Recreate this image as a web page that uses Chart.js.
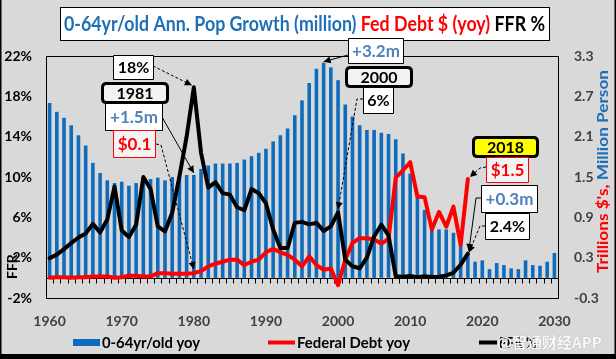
<!DOCTYPE html>
<html><head><meta charset="utf-8">
<script src="https://cdn.jsdelivr.net/npm/chart.js@4/dist/chart.umd.min.js"></script>
<style>html,body{margin:0;padding:0;background:#d9d9d9;overflow:hidden}</style>
</head><body>
<canvas id="c" width="616" height="359"></canvas>
<script>
// ---- data ----
const years = [1960,1961,1962,1963,1964,1965,1966,1967,1968,1969,
1970,1971,1972,1973,1974,1975,1976,1977,1978,1979,
1980,1981,1982,1983,1984,1985,1986,1987,1988,1989,
1990,1991,1992,1993,1994,1995,1996,1997,1998,1999,
2000,2001,2002,2003,2004,2005,2006,2007,2008,2009,
2010,2011,2012,2013,2014,2015,2016,2017,2018,2019,
2020,2021,2022,2023,2024,2025,2026,2027,2028,2029,2030];
const xTickLabels = ['1960','1970','1980','1990','2000','2010','2020','2030'];
// 0-64 yr/old population growth, million (right axis)
const popGrowth = [2.60,2.47,2.38,2.27,2.12,1.97,1.71,1.56,1.45,1.41,
1.43,1.37,1.41,1.44,1.47,1.49,1.45,1.50,1.51,1.53,
1.53,1.62,1.67,1.70,1.70,1.70,1.71,1.76,1.81,1.86,
1.92,2.03,2.12,2.22,2.42,2.64,2.90,3.11,3.20,3.13,
2.94,2.58,2.40,2.27,2.20,2.20,2.16,2.14,2.06,1.85,
1.55,1.21,1.01,0.81,0.72,0.72,0.67,0.49,0.37,0.24,
0.26,0.13,0.22,0.19,0.14,0.13,0.26,0.19,0.18,0.24,0.37];
// Federal debt yoy change, trillions $ (right axis), 1960-2018
const fedDebt = [0.00,0.01,0.01,0.00,0.01,0.01,0.02,0.02,0.02,0.00,
0.01,0.03,0.03,0.02,0.02,0.07,0.07,0.06,0.06,0.06,
0.07,0.10,0.17,0.21,0.24,0.27,0.27,0.19,0.24,0.27,
0.38,0.43,0.38,0.34,0.27,0.17,0.32,0.19,0.12,0.14,
-0.11,0.27,0.52,0.59,0.59,0.57,0.51,0.58,1.49,1.60,
1.72,1.21,1.20,0.72,0.98,0.76,1.06,0.49,1.47];
// Fed funds rate %, year-end (left axis), 1960-2018
const ffr = [1.96,2.30,2.85,3.45,4.00,4.40,5.35,4.50,5.80,9.05,
4.70,4.05,5.27,10.0,8.80,5.10,4.60,6.45,10.05,14.0,
18.9,12.4,8.95,9.50,8.40,8.25,7.00,6.70,8.80,8.40,
7.40,4.80,2.95,2.95,5.45,5.55,5.30,5.45,4.65,5.10,
6.50,1.80,1.15,0.95,2.00,4.10,5.27,4.20,0.15,0.12,
0.18,0.07,0.16,0.09,0.12,0.24,0.50,1.30,2.40];
const leftTicks = [-2,2,6,10,14,18,22];
const rightTicks = [-0.3,0.3,0.9,1.5,2.1,2.7,3.3];

const BLUE='#0F6CBD', RED='#FF0000', LBLUE='#4F81BD', TBLUE='#1F6FB8';
Chart.defaults.font.family='Lato';

function txt(ctx,s,x,y,size,color,align,maxW,family){
  ctx.save();
  ctx.font='bold '+size+'px '+(family||'Lato');
  ctx.fillStyle=color;ctx.textBaseline='middle';ctx.textAlign='left';
  const w=ctx.measureText(s).width;
  const sx=(maxW&&w>maxW)?maxW/w:1;
  const x0=align==='center'?x-w*sx/2:(align==='right'?x-w*sx:x);
  ctx.translate(x0,y);ctx.scale(sx,1);ctx.fillText(s,0,0);
  ctx.restore();return w*sx;
}
function multi(ctx,segs,x,y,size,width){ // segs: [text,color]
  ctx.save();ctx.font='bold '+size+'px Lato';
  let tot=0;segs.forEach(s=>tot+=ctx.measureText(s[0]).width);
  const sx=width/tot;
  ctx.translate(x,y);ctx.scale(sx,1);ctx.textBaseline='middle';
  let cx=0;segs.forEach(s=>{ctx.fillStyle=s[1];ctx.fillText(s[0],cx,0);cx+=ctx.measureText(s[0]).width;});
  ctx.restore();
}
function rrect(ctx,x,y,w,h,r){
  ctx.beginPath();ctx.moveTo(x+r,y);ctx.lineTo(x+w-r,y);ctx.quadraticCurveTo(x+w,y,x+w,y+r);
  ctx.lineTo(x+w,y+h-r);ctx.quadraticCurveTo(x+w,y+h,x+w-r,y+h);ctx.lineTo(x+r,y+h);
  ctx.quadraticCurveTo(x,y+h,x,y+h-r);ctx.lineTo(x,y+r);ctx.quadraticCurveTo(x,y,x+r,y);ctx.closePath();
}
function box(ctx,x,y,w,h,o){
  ctx.save();
  rrect(ctx,x+0.5,y+0.5,w,h,o.r||0);
  ctx.fillStyle=o.fill||'#fff';ctx.fill();
  ctx.lineWidth=o.lw||1;ctx.strokeStyle=o.stroke||'#000';ctx.stroke();
  ctx.restore();
  txt(ctx,o.text,x+w/2+0.5,y+h/2+1,o.size||16,o.color||'#000','center',w-4);
}
function arrow(ctx,pts,dashed,color){
  ctx.save();ctx.strokeStyle=color||'#000';ctx.fillStyle=color||'#000';ctx.lineWidth=1;
  if(dashed)ctx.setLineDash([3,2]);
  ctx.beginPath();ctx.moveTo(pts[0][0],pts[0][1]);
  for(let i=1;i<pts.length;i++)ctx.lineTo(pts[i][0],pts[i][1]);
  ctx.stroke();ctx.setLineDash([]);
  const a=pts[pts.length-2],b=pts[pts.length-1];
  const ang=Math.atan2(b[1]-a[1],b[0]-a[0]),L=7,W=3.5;
  ctx.beginPath();ctx.moveTo(b[0],b[1]);
  ctx.lineTo(b[0]-L*Math.cos(ang)+W*Math.sin(ang),b[1]-L*Math.sin(ang)-W*Math.cos(ang));
  ctx.lineTo(b[0]-L*Math.cos(ang)-W*Math.sin(ang),b[1]-L*Math.sin(ang)+W*Math.cos(ang));
  ctx.closePath();ctx.fill();ctx.restore();
}

const deco={
  id:'deco',
  beforeDraw(chart){const c=chart.ctx;c.save();c.fillStyle='#d9d9d9';c.fillRect(0,0,chart.width,chart.height);c.restore();},
  beforeDatasetsDraw(chart){
    const c=chart.ctx,X=chart.scales.x,Y1=chart.scales.y1,a=chart.chartArea;
    const y0=Math.round(Y1.getPixelForValue(0))+0.5;
    c.save();c.strokeStyle='#000';c.lineWidth=1;c.beginPath();
    c.moveTo(a.left,y0);c.lineTo(a.right,y0);
    for(let i=0;i<years.length-1;i++){
      const xx=Math.round((X.getPixelForValue(i)+X.getPixelForValue(i+1))/2)+0.5;
      c.moveTo(xx,y0);c.lineTo(xx,y0+5);
    }
    c.stroke();c.restore();
  },
  afterDraw(chart){
    const c=chart.ctx,X=chart.scales.x,Y=chart.scales.y,Y1=chart.scales.y1,a=chart.chartArea;
    // plot border
    c.save();c.strokeStyle='#000';c.lineWidth=1;
    c.strokeRect(Math.round(a.left)+0.5,Math.round(a.top)+0.5,Math.round(a.right-a.left),Math.round(a.bottom-a.top));c.restore();
    // title
    c.save();c.fillStyle='#fff';c.fillRect(60,7,489,33);c.strokeStyle='#000';c.lineWidth=1;c.strokeRect(60.5,7.5,489,33);c.restore();
    multi(c,[['0-64yr/old Ann. Pop Growth (million) ',TBLUE],['Fed Debt $ (yoy) ',RED],['FFR %','#000']],64,25,20,481);
    // axis titles
    c.save();c.translate(12,279);c.rotate(-Math.PI/2);
    txt(c,'FFR',0,0,14,'#000','left');c.restore();
    c.save();c.translate(603,273);c.rotate(-Math.PI/2);
    multi(c,[["Trillions $'s, ",RED],['Million Person',TBLUE]],0,0,15,203);c.restore();
    // legend
    c.save();c.fillStyle=BLUE;c.fillRect(73,339,27,7);
    c.lineWidth=4;c.strokeStyle=RED;c.beginPath();c.moveTo(268,342.5);c.lineTo(295,342.5);c.stroke();
    c.strokeStyle='#000';c.beginPath();c.moveTo(479,342.5);c.lineTo(497,342.5);c.stroke();c.restore();
    txt(c,'0-64yr/old yoy',102,343,15,'#000','left',98);
    txt(c,'Federal Debt yoy',297,343,15,'#000','left',113);
    txt(c,'FFR %',499,343,15,'#000','left',38);
    // watermark
    c.save();c.shadowColor='rgba(0,0,0,0.35)';c.shadowBlur=1;
    txt(c,'@智通财经APP',497,342,15,'rgba(255,255,255,0.95)','left',108,'"Noto Sans CJK SC"');c.restore();
    // annotations
    const px=y=>X.getPixelForValue(years.indexOf(y));
    const i80=years.indexOf(1980),i98=years.indexOf(1998),i00=years.indexOf(2000),i18=years.indexOf(2018);
    arrow(c,[[153,66],[px(1980)-2,Y.getPixelForValue(ffr[i80])-2]],true);
    arrow(c,[[162,117],[px(1980),Y1.getPixelForValue(popGrowth[i80])-2]],false);
    arrow(c,[[156,144],[161,145],[px(1980),Y1.getPixelForValue(fedDebt[i80])-4]],true);
    arrow(c,[[348,55],[px(1998),Y1.getPixelForValue(popGrowth[i98])-1]],false);
    arrow(c,[[363,99],[357,99],[px(2000),Y.getPixelForValue(ffr[i00])-3]],true);
    arrow(c,[[486,167],[480,168],[px(2018)+2,Y1.getPixelForValue(fedDebt[i18])-2]],true);
    arrow(c,[[481,198],[476,198],[px(2018)+1,Y1.getPixelForValue(popGrowth[i18])-2]],false);
    arrow(c,[[485,226],[480,226],[px(2018)+1,Y.getPixelForValue(ffr[i18])-1]],true);
    box(c,113,55,40,24,{text:'18%'});
    box(c,102,83,65,19,{text:'1981',fill:'#f2f2f2',lw:3,r:4});
    box(c,105,103,57,27,{text:'+1.5m',color:LBLUE,size:17});
    box(c,113,130,42,27,{text:'$0.1',color:RED,stroke:RED,fill:'#f4f4f4',size:17});
    box(c,348,38,55,25,{text:'+3.2m',color:LBLUE,size:17});
    box(c,346,67,65,19,{text:'2000',fill:'#f2f2f2',lw:3,r:4});
    box(c,363,87,30,26,{text:'6%'});
    box(c,473,137,64,19,{text:'2018',fill:'#ffff00',lw:3,r:4});
    box(c,486,157,42,25,{text:'$1.5',color:RED,stroke:RED,fill:'#f4f4f4',size:17});
    box(c,481,185,56,27,{text:'+0.3m',color:LBLUE,size:17});
    box(c,485,213,44,26,{text:'2.4%'});
    // outer frame
    c.save();c.fillStyle='#000';c.fillRect(0,0,1.5,359);c.fillRect(614.5,0,1.5,359);c.fillRect(0,354,616,5);c.restore();
  }
};

new Chart(document.getElementById('c'),{
  data:{labels:years.map(String),datasets:[
    {type:'line',label:'FFR %',data:ffr,yAxisID:'y',borderColor:'#000',borderWidth:4,pointRadius:0,tension:0,order:0,borderJoinStyle:'round',borderCapStyle:'round'},
    {type:'line',label:'Federal Debt yoy',data:fedDebt,yAxisID:'y1',borderColor:RED,borderWidth:4,pointRadius:0,tension:0,order:1,borderJoinStyle:'round',borderCapStyle:'round'},
    {type:'bar',label:'0-64yr/old yoy',data:popGrowth,yAxisID:'y1',backgroundColor:BLUE,barPercentage:0.5,categoryPercentage:1,order:2}
  ]},
  options:{
    responsive:false,animation:false,devicePixelRatio:1,
    layout:{padding:{top:56,left:0,right:0,bottom:0}},
    plugins:{legend:{display:false},tooltip:{enabled:false},title:{display:false}},
    scales:{
      x:{type:'category',offset:true,grid:{display:false,drawTicks:false},border:{display:false},
         ticks:{autoSkip:false,maxRotation:0,minRotation:0,padding:15,color:'#404040',font:{size:14,weight:'bold'},
           callback:function(v,i){const l=String(years[i]);return xTickLabels.includes(l)?l:'';}},
         afterFit:s=>{s.height=61;}},
      y:{position:'left',min:-2,max:22,grid:{display:false,drawTicks:false},border:{display:false},
         ticks:{stepSize:4,padding:14,color:'#000',font:{size:14,weight:'bold'},callback:v=>leftTicks.includes(Math.round(v))?Math.round(v)+'%':''},
         afterFit:s=>{s.width=46;}},
      y1:{position:'right',min:-0.3,max:3.3,grid:{display:false,drawTicks:false},border:{display:false},
         ticks:{stepSize:0.6,padding:16,color:'#404040',font:{size:14,weight:'bold'},callback:v=>Number(v).toFixed(1)},
         afterFit:s=>{s.width=58;}}
    }
  },
  plugins:[deco]
});
</script></body></html>
